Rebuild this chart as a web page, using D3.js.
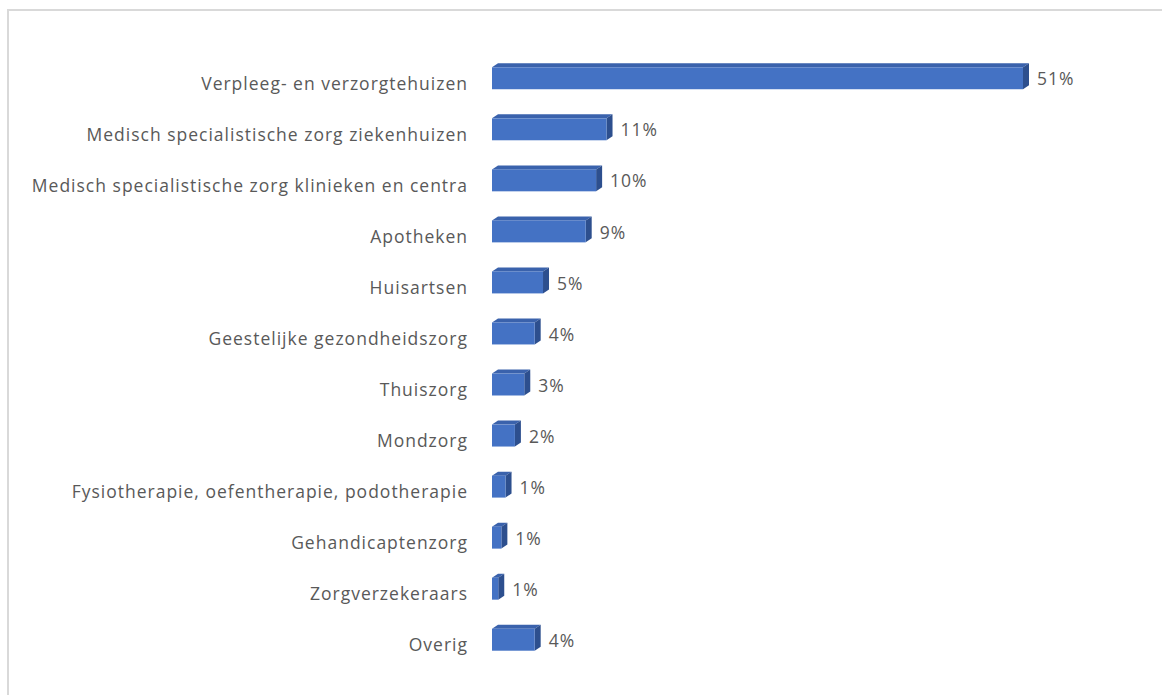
<!DOCTYPE html>
<html>
<head>
<meta charset="utf-8">
<script src="https://cdn.jsdelivr.net/npm/d3@7"></script>
<style>
  html, body { margin: 0; padding: 0; background: #fff; }
  svg { display: block; }
</style>
</head>
<body>
<svg id="chart" width="1162" height="695"></svg>
<script>
// Share per sector (percent)
const categories = [
  "Verpleeg- en verzorgtehuizen",
  "Medisch specialistische zorg ziekenhuizen",
  "Medisch specialistische zorg klinieken en centra",
  "Apotheken",
  "Huisartsen",
  "Geestelijke gezondheidszorg",
  "Thuiszorg",
  "Mondzorg",
  "Fysiotherapie, oefentherapie, podotherapie",
  "Gehandicaptenzorg",
  "Zorgverzekeraars",
  "Overig"
];
const values = [51, 11, 10, 9, 4.9, 4.1, 3.1, 2.2, 1.3, 0.9, 0.6, 4.1];

const svg = d3.select("#chart");
const W = 1162, H = 695;

// chart area frame
svg.append("path")
  .attr("d", `M8,${H + 2} L8,10 L${W + 2},10`)
  .attr("fill", "none")
  .attr("stroke", "#d9d9d9")
  .attr("stroke-width", 2);

const x = d3.scaleLinear().domain([0, 51]).range([492, 1023]);
const y = d3.scaleBand().domain(categories).range([53, 665]).paddingInner(0.57).paddingOuter(0.28);

const dx = 6, dy = 4;
const data = categories.map((c, i) => ({ c, v: values[i] }));
const fmt = v => Math.round(v) + "%";
const FONT = "Open Sans, sans-serif";

const bars = svg.append("g").selectAll("g").data(data).join("g");

// top face
bars.append("path")
  .attr("d", d => {
    const x0 = x(0), x1 = x(d.v), t = y(d.c);
    return `M${x0},${t} L${x0 + dx},${t - dy} L${x1 + dx},${t - dy} L${x1},${t} Z`;
  })
  .attr("fill", "#3a62ac");

// side face
bars.append("path")
  .attr("d", d => {
    const x1 = x(d.v), t = y(d.c), b = t + y.bandwidth();
    return `M${x1},${t} L${x1 + dx},${t - dy} L${x1 + dx},${b - dy} L${x1},${b} Z`;
  })
  .attr("fill", "#2d4f8e");

// front face
bars.append("rect")
  .attr("x", x(0))
  .attr("y", d => y(d.c))
  .attr("width", d => x(d.v) - x(0))
  .attr("height", y.bandwidth())
  .attr("fill", "#4472c4");

// value labels
bars.append("text")
  .attr("x", d => x(d.v) + dx + 8)
  .attr("y", d => y(d.c) + y.bandwidth() / 2 + 1)
  .attr("dy", "0.35em")
  .attr("font-family", FONT)
  .attr("font-size", 17.5)
  .attr("letter-spacing", 1)
  .attr("fill", "#595959")
  .text(d => fmt(d.v));

// category axis labels
const axis = d3.axisLeft(y).tickSize(0).tickPadding(0);
const gAxis = svg.append("g").attr("transform", "translate(468,6)").call(axis);
gAxis.select(".domain").remove();
gAxis.selectAll("text")
  .attr("font-family", FONT)
  .attr("font-size", 17.5)
  .attr("letter-spacing", 1)
  .attr("fill", "#595959");
</script>
</body>
</html>
